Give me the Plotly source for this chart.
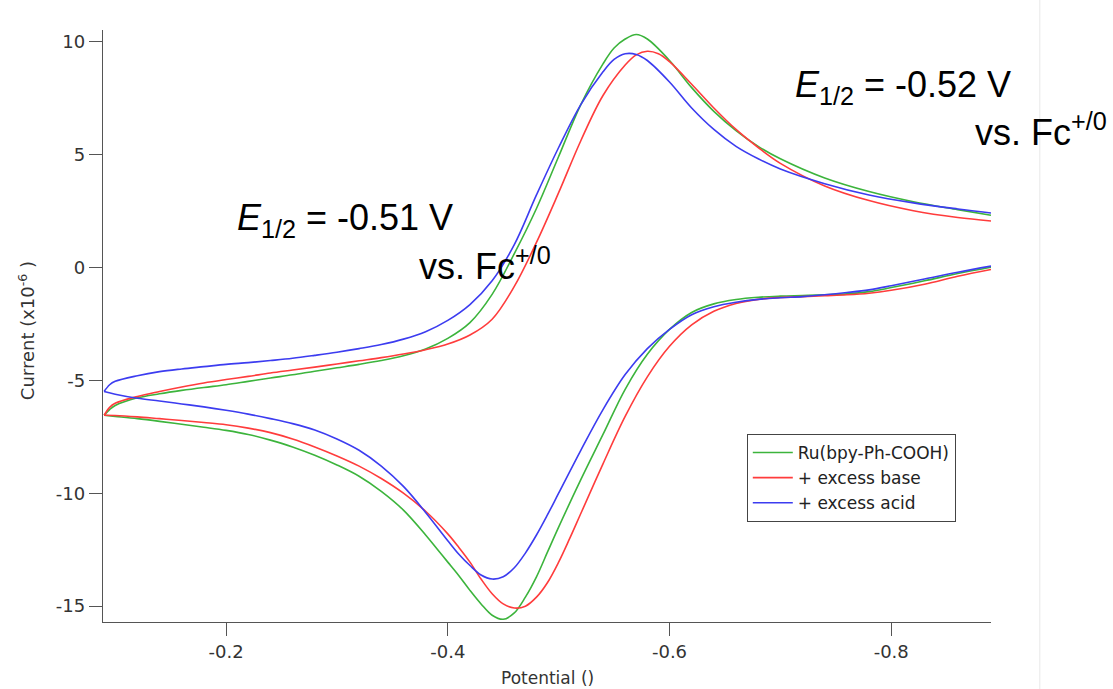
import plotly.graph_objects as go

# ---- data (potential in V, current in 1e-6 A) ----
green_up_v = [-0.090, -0.095, -0.10, -0.12, -0.14, -0.16, -0.18, -0.20, -0.22, -0.24, -0.26, -0.28, -0.30,
              -0.32, -0.34, -0.36, -0.38, -0.40, -0.42, -0.44, -0.46, -0.48, -0.50, -0.52, -0.54, -0.55,
              -0.56, -0.57, -0.58, -0.60, -0.62, -0.64, -0.66, -0.68, -0.70, -0.74, -0.78, -0.82, -0.86, -0.89]
green_up_i = [-6.55, -6.3, -6.12, -5.78, -5.6, -5.45, -5.32, -5.2, -5.05, -4.9, -4.76, -4.6, -4.45,
              -4.3, -4.13, -3.92, -3.62, -3.15, -2.45, -1.2, 0.6, 2.6, 4.9, 7.2, 9.0, 9.7,
              10.1, 10.3, 10.1, 9.15, 7.95, 6.9, 6.05, 5.35, 4.8, 3.95, 3.35, 2.9, 2.55, 2.3]
green_dn_v = [-0.89, -0.86, -0.83, -0.80, -0.78, -0.76, -0.74, -0.72, -0.70, -0.68, -0.66, -0.64, -0.62,
              -0.60, -0.58, -0.56, -0.54, -0.52, -0.50, -0.49, -0.48, -0.47, -0.46, -0.45, -0.44, -0.43,
              -0.42, -0.41, -0.40, -0.39, -0.38, -0.36, -0.34, -0.32, -0.30, -0.28, -0.26, -0.24, -0.22,
              -0.20, -0.18, -0.16, -0.14, -0.12, -0.10, -0.09]
green_dn_i = [0.0, -0.28, -0.6, -0.9, -1.08, -1.18, -1.22, -1.25, -1.28, -1.33, -1.43, -1.62, -2.0,
              -2.75, -3.85, -5.4, -7.4, -9.4, -11.5, -12.6, -13.7, -14.6, -15.3, -15.58, -15.4, -14.9,
              -14.3, -13.65, -13.05, -12.45, -11.85, -10.75, -9.92, -9.25, -8.75, -8.32, -7.95, -7.65, -7.4,
              -7.22, -7.08, -6.95, -6.82, -6.7, -6.6, -6.55]

red_up_v = [-0.090, -0.095, -0.10, -0.12, -0.14, -0.16, -0.18, -0.20, -0.22, -0.24, -0.26, -0.28, -0.30,
            -0.32, -0.34, -0.36, -0.38, -0.40, -0.42, -0.44, -0.46, -0.48, -0.50, -0.52, -0.54, -0.56,
            -0.57, -0.58, -0.59, -0.60, -0.62, -0.64, -0.66, -0.68, -0.70, -0.74, -0.78, -0.82, -0.86, -0.89]
red_up_i = [-6.55, -6.2, -6.02, -5.72, -5.5, -5.3, -5.12, -4.97, -4.83, -4.68, -4.55, -4.42, -4.28,
            -4.14, -4.0, -3.84, -3.65, -3.4, -3.0, -2.3, -0.85, 1.1, 3.3, 5.6, 7.6, 8.95,
            9.4, 9.56, 9.45, 9.1, 8.1, 7.05, 6.1, 5.3, 4.6, 3.6, 2.95, 2.5, 2.2, 2.05]
red_dn_v = [-0.89, -0.86, -0.83, -0.80, -0.78, -0.76, -0.74, -0.72, -0.70, -0.68, -0.66, -0.64, -0.62,
            -0.60, -0.58, -0.56, -0.54, -0.52, -0.51, -0.50, -0.49, -0.48, -0.47, -0.46, -0.45, -0.44,
            -0.43, -0.42, -0.41, -0.40, -0.38, -0.36, -0.34, -0.32, -0.30, -0.28, -0.26, -0.24, -0.22,
            -0.20, -0.18, -0.16, -0.14, -0.12, -0.10, -0.09]
red_dn_i = [-0.1, -0.4, -0.75, -1.02, -1.15, -1.22, -1.26, -1.3, -1.34, -1.42, -1.6, -1.95, -2.55,
            -3.5, -4.85, -6.6, -8.7, -10.9, -12.0, -13.05, -13.95, -14.6, -15.0, -15.08, -14.9, -14.45,
            -13.8, -13.05, -12.4, -11.8, -10.8, -10.0, -9.35, -8.8, -8.35, -7.95, -7.6, -7.32, -7.12,
            -6.97, -6.87, -6.78, -6.7, -6.62, -6.56, -6.55]

blue_up_v = [-0.090, -0.095, -0.10, -0.12, -0.14, -0.16, -0.18, -0.20, -0.22, -0.24, -0.26, -0.28, -0.30,
             -0.32, -0.34, -0.36, -0.38, -0.40, -0.42, -0.44, -0.46, -0.48, -0.50, -0.52, -0.54, -0.55,
             -0.56, -0.57, -0.58, -0.60, -0.62, -0.64, -0.66, -0.68, -0.70, -0.74, -0.78, -0.82, -0.86, -0.89]
blue_up_i = [-5.5, -5.2, -5.05, -4.8, -4.62, -4.5, -4.4, -4.3, -4.22, -4.13, -4.03, -3.9, -3.76,
             -3.6, -3.42, -3.18, -2.85, -2.35, -1.65, -0.6, 1.0, 3.2, 5.3, 7.2, 8.65, 9.2,
             9.45, 9.42, 9.15, 8.2, 7.05, 6.1, 5.35, 4.8, 4.35, 3.7, 3.2, 2.85, 2.58, 2.4]
blue_dn_v = [-0.89, -0.86, -0.83, -0.80, -0.78, -0.76, -0.74, -0.72, -0.70, -0.68, -0.66, -0.64, -0.62,
             -0.60, -0.58, -0.56, -0.54, -0.52, -0.50, -0.49, -0.48, -0.47, -0.46, -0.45, -0.44, -0.43,
             -0.42, -0.41, -0.40, -0.38, -0.36, -0.34, -0.32, -0.30, -0.28, -0.26, -0.24, -0.22, -0.20,
             -0.18, -0.16, -0.14, -0.12, -0.10, -0.09]
blue_dn_i = [0.05, -0.22, -0.52, -0.82, -1.0, -1.12, -1.22, -1.3, -1.35, -1.42, -1.55, -1.75, -2.1,
             -2.75, -3.6, -4.75, -6.3, -8.1, -10.0, -10.95, -11.85, -12.65, -13.3, -13.7, -13.8, -13.62,
             -13.2, -12.7, -12.1, -10.85, -9.7, -8.8, -8.1, -7.6, -7.2, -6.92, -6.7, -6.5, -6.33,
             -6.18, -6.05, -5.92, -5.8, -5.62, -5.5]

names = ["Ru(bpy-Ph-COOH)", "+ excess base", "+ excess acid"]
colors = ["#3cb43c", "#ff3c3c", "#3c3cf0"]

x_ticks = [-0.2, -0.4, -0.6, -0.8]
x_tick_text = ["-0.2", "-0.4", "-0.6", "-0.8"]
y_ticks = [10, 5, 0, -5, -10, -15]
y_tick_text = ["10", "5", "0", "-5", "-10", "-15"]

series = [
    (green_up_v, green_up_i, green_dn_v, green_dn_i),
    (red_up_v, red_up_i, red_dn_v, red_dn_i),
    (blue_up_v, blue_up_i, blue_dn_v, blue_dn_i),
]

fig = go.Figure()
for (uv, ui, dv, di), nm, col in zip(series, names, colors):
    fig.add_trace(go.Scatter(x=uv + [None] + dv, y=ui + [None] + di, mode="lines", name=nm,
                             connectgaps=False,
                             line=dict(color=col, width=1.6, shape="spline", smoothing=1.0)))

tick_font = dict(family="DejaVu Sans", size=18, color="#333333")

fig.update_layout(
    width=1113, height=689,
    margin=dict(l=103, r=122, t=30, b=67),
    paper_bgcolor="white", plot_bgcolor="white",
    showlegend=True,
    legend=dict(x=0.725, y=0.3176, xanchor="left", yanchor="top",
                bgcolor="white", bordercolor="#444444", borderwidth=1,
                font=dict(family="DejaVu Sans", size=17, color="#222222"),
                itemwidth=40, tracegroupgap=0),
    xaxis=dict(range=[-0.089, -0.890], showgrid=False, zeroline=False,
               showline=True, linecolor="#555555", linewidth=1.3,
               ticks="outside", ticklen=13, tickcolor="#555555", tickwidth=1.3,
               tickvals=x_ticks, ticktext=x_tick_text, tickfont=tick_font),
    yaxis=dict(range=[-15.7, 10.5], showgrid=False, zeroline=False,
               showline=True, linecolor="#555555", linewidth=1.3,
               ticks="outside", ticklen=13, tickcolor="#555555", tickwidth=1.3,
               tickvals=y_ticks, ticktext=y_tick_text, tickfont=tick_font),
)

big = dict(family="Liberation Sans", size=36, color="black")
ann = [
    dict(text="<i>E</i><sub>1/2</sub> = -0.51 V", x=0.1486, y=0.679),
    dict(text="vs. Fc<sup>+/0</sup>", x=0.3536, y=0.6047),
    dict(text="<i>E</i><sub>1/2</sub> = -0.52 V", x=0.777, y=0.9037),
    dict(text="vs. Fc<sup>+/0</sup>", x=0.9797, y=0.831),
]
for a in ann:
    fig.add_annotation(xref="paper", yref="paper", xanchor="left", yanchor="middle",
                       showarrow=False, font=big, **a)

fig.add_annotation(text="Potential ()", xref="paper", yref="paper", x=0.5, y=-0.0946,
                   xanchor="center", yanchor="middle", showarrow=False,
                   font=dict(family="DejaVu Sans", size=17, color="#333333"))
fig.add_annotation(text="Current (x10<sup>-6</sup> )", xref="paper", yref="paper",
                   x=-0.0856, y=0.493, xanchor="center", yanchor="middle", textangle=-90,
                   showarrow=False, font=dict(family="DejaVu Sans", size=18, color="#333333"))

fig.add_shape(type="line", xref="paper", yref="paper", x0=1.055, x1=1.055, y0=-0.2, y1=1.1,
              line=dict(color="#e8e8e8", width=1))

fig.write_html("out.html")
